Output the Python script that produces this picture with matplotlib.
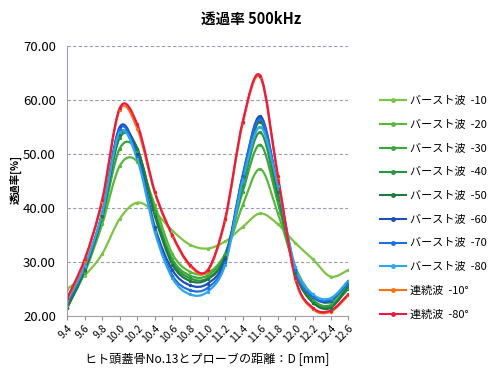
import numpy as np
import matplotlib
matplotlib.use("Agg")
import matplotlib.pyplot as plt
from matplotlib.path import Path
from matplotlib.patches import PathPatch
from matplotlib.lines import Line2D

plt.rcParams['font.family'] = ['Noto Sans CJK JP', 'DejaVu Sans']

# distance D [mm]
x = [9.4, 9.6, 9.8, 10.0, 10.2, 10.4, 10.6, 10.8, 11.0,
     11.2, 11.4, 11.6, 11.8, 12.0, 12.2, 12.4, 12.6]

b10 = [25.0, 27.5, 31.5, 38.0, 41.0, 39.2, 35.8, 33.2, 32.5, 33.8, 36.5, 39.0, 37.0, 33.5, 30.5, 27.3, 28.5]
b20 = [21.8, 28.0, 37.0, 47.8, 48.6, 40.5, 31.5, 28.2, 28.0, 31.5, 40.5, 47.2, 39.0, 29.0, 23.8, 22.5, 26.0]
b30 = [21.5, 28.2, 38.0, 51.0, 50.5, 39.5, 30.5, 27.5, 27.5, 31.5, 43.0, 51.7, 41.0, 28.5, 23.0, 22.0, 25.5]
b40 = [21.5, 28.5, 38.5, 53.0, 51.0, 39.0, 30.0, 27.0, 27.0, 31.0, 44.0, 54.0, 42.0, 28.0, 22.5, 21.8, 25.0]
b50 = [21.5, 28.5, 38.5, 53.5, 51.0, 38.5, 29.5, 26.5, 26.8, 31.0, 45.0, 56.0, 43.0, 28.0, 22.5, 21.5, 25.5]
b60 = [22.5, 29.0, 39.0, 55.0, 50.0, 36.5, 28.5, 25.7, 26.0, 30.5, 46.0, 57.0, 44.0, 28.5, 23.5, 22.8, 26.5]
b70 = [22.3, 29.0, 39.0, 54.7, 49.5, 36.0, 27.5, 24.8, 25.2, 30.0, 46.0, 56.5, 44.0, 28.5, 23.5, 23.0, 26.0]
b80 = [22.8, 29.2, 39.0, 54.0, 49.0, 35.5, 27.0, 24.0, 24.5, 29.5, 45.0, 55.0, 44.0, 29.0, 24.0, 23.3, 26.5]
c10 = [23.0, 30.2, 41.2, 58.2, 54.7, 42.8, 34.8, 29.3, 28.3, 37.7, 55.7, 64.2, 45.7, 26.8, 21.3, 20.8, 23.8]
c80 = [23.3, 30.5, 41.5, 58.5, 55.5, 43.0, 35.0, 29.5, 28.5, 38.0, 56.0, 64.5, 46.0, 27.0, 21.5, 21.0, 24.0]

series = [
    ("バースト波  -10", b10, "#7cc444"),
    ("バースト波  -20", b20, "#58b83c"),
    ("バースト波  -30", b30, "#3aa838"),
    ("バースト波  -40", b40, "#2b9640"),
    ("バースト波  -50", b50, "#1f7a40"),
    ("バースト波  -60", b60, "#1c4fb8"),
    ("バースト波  -70", b70, "#1f6fe0"),
    ("バースト波  -80", b80, "#2ea6ec"),
    ("連続波  -10°", c10, "#ff7010"),
    ("連続波  -80°", c80, "#ea1a44"),
]


def smooth_path(xs, ys):
    # Excel-like smoothed line: Catmull-Rom segments as cubic Beziers
    p = np.column_stack([xs, ys]).astype(float)
    n = len(p)
    verts = [p[0]]
    codes = [Path.MOVETO]
    for i in range(n - 1):
        p0 = p[i - 1] if i > 0 else p[i]
        p3 = p[i + 2] if i + 2 < n else p[i + 1]
        c1 = p[i] + (p[i + 1] - p0) / 6.0
        c2 = p[i + 1] - (p3 - p[i]) / 6.0
        verts += [c1, c2, p[i + 1]]
        codes += [Path.CURVE4] * 3
    return Path(verts, codes)


fig = plt.figure(figsize=(4.91, 3.69), dpi=100)
ax = fig.add_axes([0.1365, 0.1436, 0.5725, 0.7317])

handles = []
for label, ys, col in series:
    ax.add_patch(PathPatch(smooth_path(x, ys), fill=False, edgecolor=col,
                           lw=1.6, transform=ax.transData))
    ax.plot(x, ys, linestyle="none", marker="o", ms=1.4, color=col)
    handles.append(Line2D([], [], color=col, lw=1.5, marker="o", ms=2.5))

ax.set_xlim(9.4, 12.6)
ax.set_ylim(20, 70)
ax.set_xticks(x)
ax.set_xticklabels([f"{v:.1f}" for v in x], rotation=45, ha="right",
                   rotation_mode="anchor", fontsize=7.5)
ax.set_yticks(np.arange(20, 71, 10))
ax.set_yticklabels([f"{v:.2f}" for v in np.arange(20, 71, 10)], fontsize=9.5)
ax.tick_params(axis="y", length=0, pad=8)
ax.tick_params(axis="x", length=3, color="#9090a0", pad=2)

ax.grid(axis="y", color="#9a9ab0", lw=0.8, linestyle=(0, (3, 2)))
ax.set_axisbelow(True)
for s in ["top", "right"]:
    ax.spines[s].set_visible(False)
for s in ["left", "bottom"]:
    ax.spines[s].set_color("#a0a0b0")
    ax.spines[s].set_linewidth(0.8)

ax.set_xlabel("ヒト頭蓋骨No.13とプローブの距離：D [mm]", fontsize=8.7, labelpad=6)
fig.text(0.031, 0.515, "透過率[%]", rotation=90, ha="center", va="center",
         fontsize=7.5, fontweight="bold")
fig.text(0.511, 0.95, "透過率 500kHz", ha="center", va="center",
         fontsize=10.5, fontweight="bold")

fig.legend(handles, [s[0] for s in series], loc="upper left",
           bbox_to_anchor=(0.764, 0.751), frameon=False, fontsize=8.0,
           handlelength=2.4, handletextpad=0.3, labelspacing=1.23,
           numpoints=1, borderaxespad=0)

fig.savefig("out.png", dpi=100)
